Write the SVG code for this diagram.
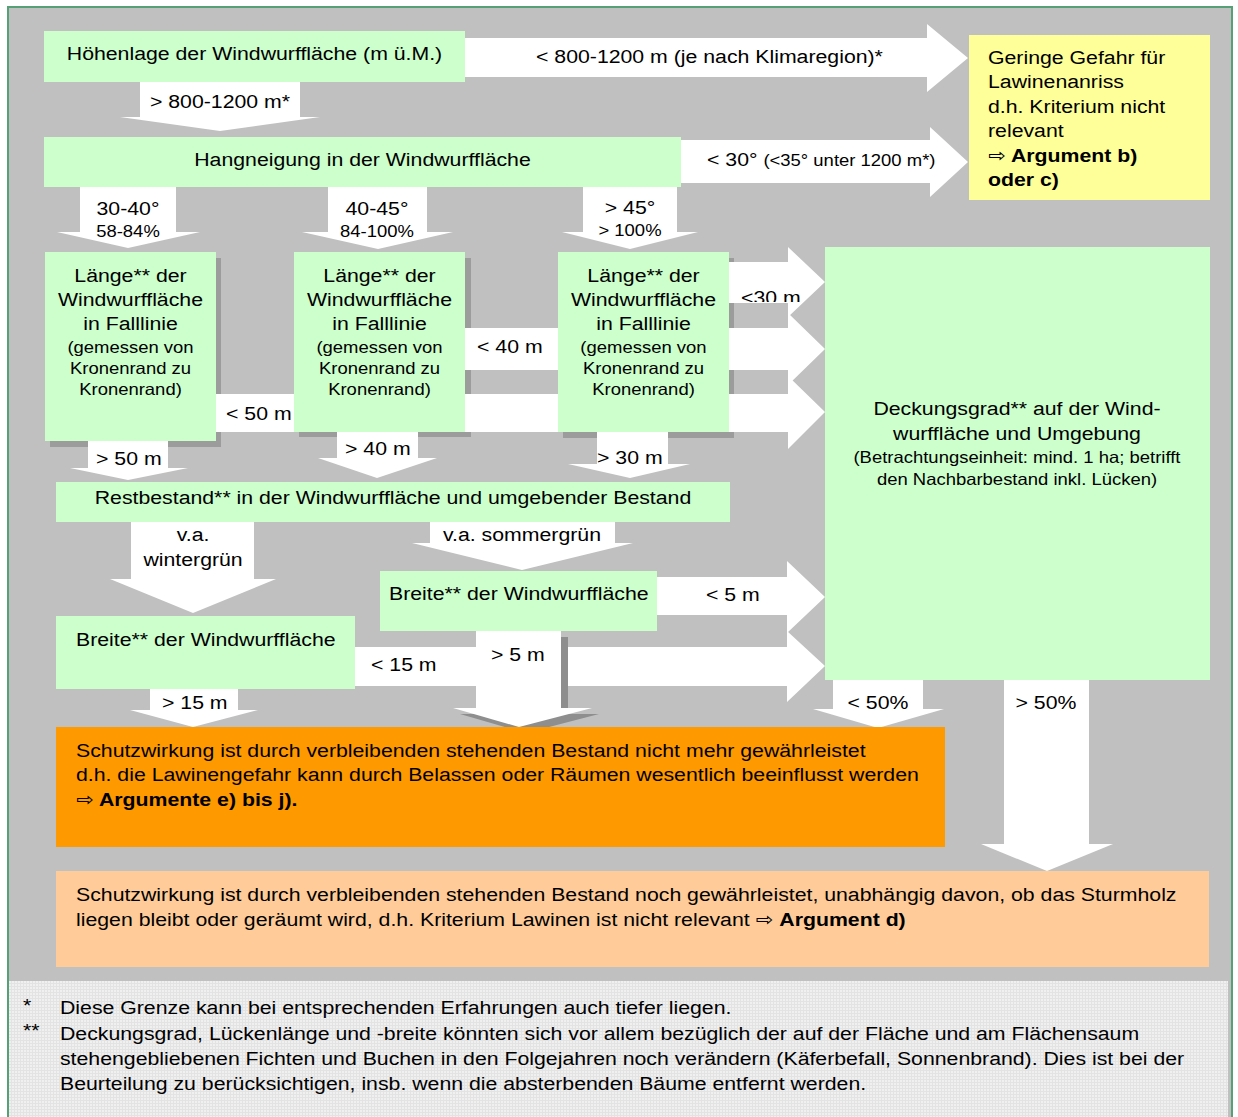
<svg xmlns="http://www.w3.org/2000/svg" width="1238" height="1117" viewBox="0 0 1238 1117">
<defs>
<style>
.bg{fill:#c0c0c0}
.node{fill:#ccffcc}
.shadow{fill:#9c9c9c}
.arrow{fill:#ffffff}
.ashadow{fill:#8e8e8e}
text{font-family:"Liberation Sans",Arial,"DejaVu Sans",sans-serif;font-size:19px;fill:#000;transform-box:fill-box;transform:scaleX(1.12)}
.l{transform-origin:0% 50%}
.c{text-anchor:middle;transform-origin:50% 50%}
.s{font-size:16.5px}
.b{font-weight:bold}
.n{font-weight:normal}
</style>
<pattern id="grid" width="3" height="3" patternUnits="userSpaceOnUse">
<rect width="3" height="3" fill="#e3e3e3"/>
<rect width="2" height="2" fill="#f0f0f0"/>
</pattern>
<clipPath id="clip30"><rect x="730" y="250" width="90" height="52"/></clipPath>
</defs>

<g id="background">
<rect x="0" y="0" width="1238" height="1117" fill="#ffffff"/>
<rect class="bg" x="9" y="8" width="1222" height="1110"/>
<rect x="9" y="981" width="1219" height="140" fill="url(#grid)"/>
<rect x="8" y="7" width="1224" height="1125" fill="none" stroke="#55a077" stroke-width="2"/>
</g>

<g id="shadows">
<rect class="shadow" x="50" y="258" width="171" height="189"/>
<rect class="shadow" x="299" y="258" width="172" height="179"/>
<rect class="shadow" x="563" y="258" width="171" height="180"/>
</g>

<g id="connectors">
<g id="c-hoehe-gering">
<polygon class="arrow" points="465,38 927,38 927,24 968,58 927,92 927,77 465,77"/>
<text class="l" x="536" y="63">&lt; 800-1200 m (je nach Klimaregion)*</text>
</g>
<g id="c-hoehe-hang">
<polygon class="arrow" points="140,82 300,82 300,117 320,117 220,131 120,117 140,117"/>
<text class="c" x="220" y="108">&gt; 800-1200 m*</text>
</g>
<g id="c-hang-gering">
<polygon class="arrow" points="681,140 930,140 930,127 968,162 930,197 930,183 681,183"/>
<text class="l" x="707" y="166">&lt; 30° <tspan class="s">(&lt;35° unter 1200 m*)</tspan></text>
</g>
<g id="c-hang-laenge1">
<polygon class="arrow" points="80,187 176,187 176,232 200,232 128,248 57,232 80,232"/>
<text class="c" x="128" y="215">30-40°<tspan class="s" x="128" y="237">58-84%</tspan></text>
</g>
<g id="c-hang-laenge2">
<polygon class="arrow" points="328,187 427,187 427,232 453,232 378,249 302,232 328,232"/>
<text class="c" x="377" y="215">40-45°<tspan class="s" x="377" y="237">84-100%</tspan></text>
</g>
<g id="c-hang-laenge3">
<polygon class="arrow" points="583,187 677,187 677,232 698,232 630,249 562,232 583,232"/>
<text class="c" x="630" y="214">&gt; 45°<tspan class="s" x="630" y="236">&gt; 100%</tspan></text>
</g>
<g id="c-laenge3-deck">
<polygon class="arrow" points="720,262 788,262 788,247 825,282 788,317 788,303 720,303"/>
<g clip-path="url(#clip30)"><text class="l" x="741" y="304">&lt;30 m</text></g>
</g>
<g id="c-laenge2-deck">
<polygon class="arrow" points="460,328 788,328 788,313 825,349 788,385 788,370 460,370"/>
<text class="l" x="477" y="353">&lt; 40 m</text>
</g>
<g id="c-laenge1-deck">
<polygon class="arrow" points="210,394 788,394 788,376 825,412 788,449 788,432 210,432"/>
<text class="l" x="226" y="420">&lt; 50 m</text>
</g>
<g id="c-laenge1-rest">
<polygon class="arrow" points="88,441 168,441 168,468 188,468 128,480 70,468 88,468"/>
<text class="l" x="96" y="465">&gt; 50 m</text>
</g>
<g id="c-laenge2-rest">
<polygon class="arrow" points="337,432 418,432 418,458 437,458 377,478 318,458 337,458"/>
<text class="l" x="345" y="455">&gt; 40 m</text>
</g>
<g id="c-laenge3-rest">
<polygon class="arrow" points="597,432 668,432 668,464 690,464 630,478 568,464 597,464"/>
<text class="l" x="597" y="464">&gt; 30 m</text>
</g>
<g id="c-rest-breite1">
<polygon class="arrow" points="131,522 254,522 254,579 276,579 193,613 110,579 131,579"/>
<text class="c" x="193" y="541">v.a.<tspan x="193" y="566">wintergrün</tspan></text>
</g>
<g id="c-rest-breite2">
<polygon class="arrow" points="430,522 615,522 615,543 633,543 522,570 412,543 430,543"/>
<text class="c" x="522" y="541">v.a. sommergrün</text>
</g>
<g id="c-breite2-deck">
<polygon class="arrow" points="650,577 787,577 787,561 825,597 787,633 787,615 650,615"/>
<text class="l" x="706" y="601">&lt; 5 m</text>
</g>
<g id="c-breite1-deck">
<polygon class="arrow" points="350,647 787,647 787,631 825,666 787,702 787,686 350,686"/>
<text class="l" x="371" y="671">&lt; 15 m</text>
</g>
<g id="c-breite2-orange">
<polygon class="ashadow" points="483,637 568,637 568,714 599,714 526,733 460,714 483,714"/>
<polygon class="arrow" points="476,625 561,625 561,708 592,708 519,727 453,708 476,708"/>
<text class="l" x="491" y="661">&gt; 5 m</text>
</g>
<g id="c-breite1-orange">
<polygon class="arrow" points="150,689 238,689 238,710 258,710 193,727 130,710 150,710"/>
<text class="l" x="162" y="709">&gt; 15 m</text>
</g>
<g id="c-deck-orange">
<polygon class="arrow" points="833,680 923,680 923,709 944,709 878,728 813,709 833,709"/>
<text class="c" x="878" y="709">&lt; 50%</text>
</g>
<g id="c-deck-peach">
<polygon class="arrow" points="1004,680 1089,680 1089,844 1113,844 1047,871 981,844 1004,844"/>
<text class="c" x="1046" y="709">&gt; 50%</text>
</g>
</g>

<g id="n-hoehenlage">
<rect class="node" x="44" y="31" width="421" height="51"/>
<text class="c" x="254.5" y="60">Höhenlage der Windwurffläche (m ü.M.)</text>
</g>
<g id="n-hangneigung">
<rect class="node" x="44" y="137" width="637" height="50"/>
<text class="c" x="362.5" y="166">Hangneigung in der Windwurffläche</text>
</g>
<g id="n-gering">
<rect x="969" y="35" width="241" height="165" fill="#ffff99"/>
<text class="l" x="988" y="64">Geringe Gefahr für<tspan x="988" y="88.5">Lawinenanriss</tspan><tspan x="988" y="113">d.h. Kriterium nicht</tspan><tspan x="988" y="137.5">relevant</tspan><tspan x="988" y="162" class="b"><tspan class="n">⇨</tspan> Argument b)</tspan><tspan x="988" y="186.5" class="b">oder c)</tspan></text>
</g>
<g id="n-laenge1">
<rect class="node" x="45" y="252" width="171" height="189"/>
<text class="c" x="130.5" y="282">Länge** der<tspan x="130.5" y="306">Windwurffläche</tspan><tspan x="130.5" y="330">in Falllinie</tspan><tspan x="130.5" y="353" class="s">(gemessen von</tspan><tspan x="130.5" y="374" class="s">Kronenrand zu</tspan><tspan x="130.5" y="395" class="s">Kronenrand)</tspan></text>
</g>
<g id="n-laenge2">
<rect class="node" x="294" y="252" width="171" height="180"/>
<text class="c" x="379.5" y="282">Länge** der<tspan x="379.5" y="306">Windwurffläche</tspan><tspan x="379.5" y="330">in Falllinie</tspan><tspan x="379.5" y="353" class="s">(gemessen von</tspan><tspan x="379.5" y="374" class="s">Kronenrand zu</tspan><tspan x="379.5" y="395" class="s">Kronenrand)</tspan></text>
</g>
<g id="n-laenge3">
<rect class="node" x="558" y="252" width="171" height="180"/>
<text class="c" x="643.5" y="282">Länge** der<tspan x="643.5" y="306">Windwurffläche</tspan><tspan x="643.5" y="330">in Falllinie</tspan><tspan x="643.5" y="353" class="s">(gemessen von</tspan><tspan x="643.5" y="374" class="s">Kronenrand zu</tspan><tspan x="643.5" y="395" class="s">Kronenrand)</tspan></text>
</g>
<g id="n-restbestand">
<rect class="node" x="56" y="482" width="674" height="40"/>
<text class="c" x="393" y="504">Restbestand** in der Windwurffläche und umgebender Bestand</text>
</g>
<g id="n-breite2">
<rect class="node" x="380" y="571" width="277" height="60"/>
<text class="l" x="389" y="600">Breite** der Windwurffläche</text>
</g>
<g id="n-breite1">
<rect class="node" x="56" y="616" width="299" height="73"/>
<text class="l" x="76" y="646">Breite** der Windwurffläche</text>
</g>
<g id="n-deckungsgrad">
<rect class="node" x="825" y="247" width="385" height="433"/>
<text class="c" x="1017" y="415">Deckungsgrad** auf der Wind-<tspan x="1017" y="440">wurffläche und Umgebung</tspan><tspan x="1017" y="463" class="s">(Betrachtungseinheit: mind. 1 ha; betrifft</tspan><tspan x="1017" y="485" class="s">den Nachbarbestand inkl. Lücken)</tspan></text>
</g>
<g id="n-orange">
<rect x="56" y="727" width="889" height="120" fill="#ff9900"/>
<text class="l" x="76" y="757">Schutzwirkung ist durch verbleibenden stehenden Bestand nicht mehr gewährleistet<tspan x="76" y="781">d.h. die Lawinengefahr kann durch Belassen oder Räumen wesentlich beeinflusst werden</tspan><tspan x="76" y="806" class="b"><tspan class="n">⇨</tspan> Argumente e) bis j).</tspan></text>
</g>
<g id="n-peach">
<rect x="56" y="871" width="1153" height="96" fill="#ffcc99"/>
<text class="l" x="76" y="901">Schutzwirkung ist durch verbleibenden stehenden Bestand noch gewährleistet, unabhängig davon, ob das Sturmholz<tspan x="76" y="926">liegen bleibt oder geräumt wird, d.h. Kriterium Lawinen ist nicht relevant ⇨ <tspan class="b">Argument d)</tspan></tspan></text>
</g>

<g id="footnotes">
<text class="l" x="23" y="1012">*</text>
<text class="l" x="60" y="1014">Diese Grenze kann bei entsprechenden Erfahrungen auch tiefer liegen.</text>
<text class="l" x="23" y="1037">**</text>
<text class="l" x="60" y="1040">Deckungsgrad, Lückenlänge und -breite könnten sich vor allem bezüglich der auf der Fläche und am Flächensaum<tspan x="60" y="1065">stehengebliebenen Fichten und Buchen in den Folgejahren noch verändern (Käferbefall, Sonnenbrand). Dies ist bei der</tspan><tspan x="60" y="1090">Beurteilung zu berücksichtigen, insb. wenn die absterbenden Bäume entfernt werden.</tspan></text>
</g>
</svg>
